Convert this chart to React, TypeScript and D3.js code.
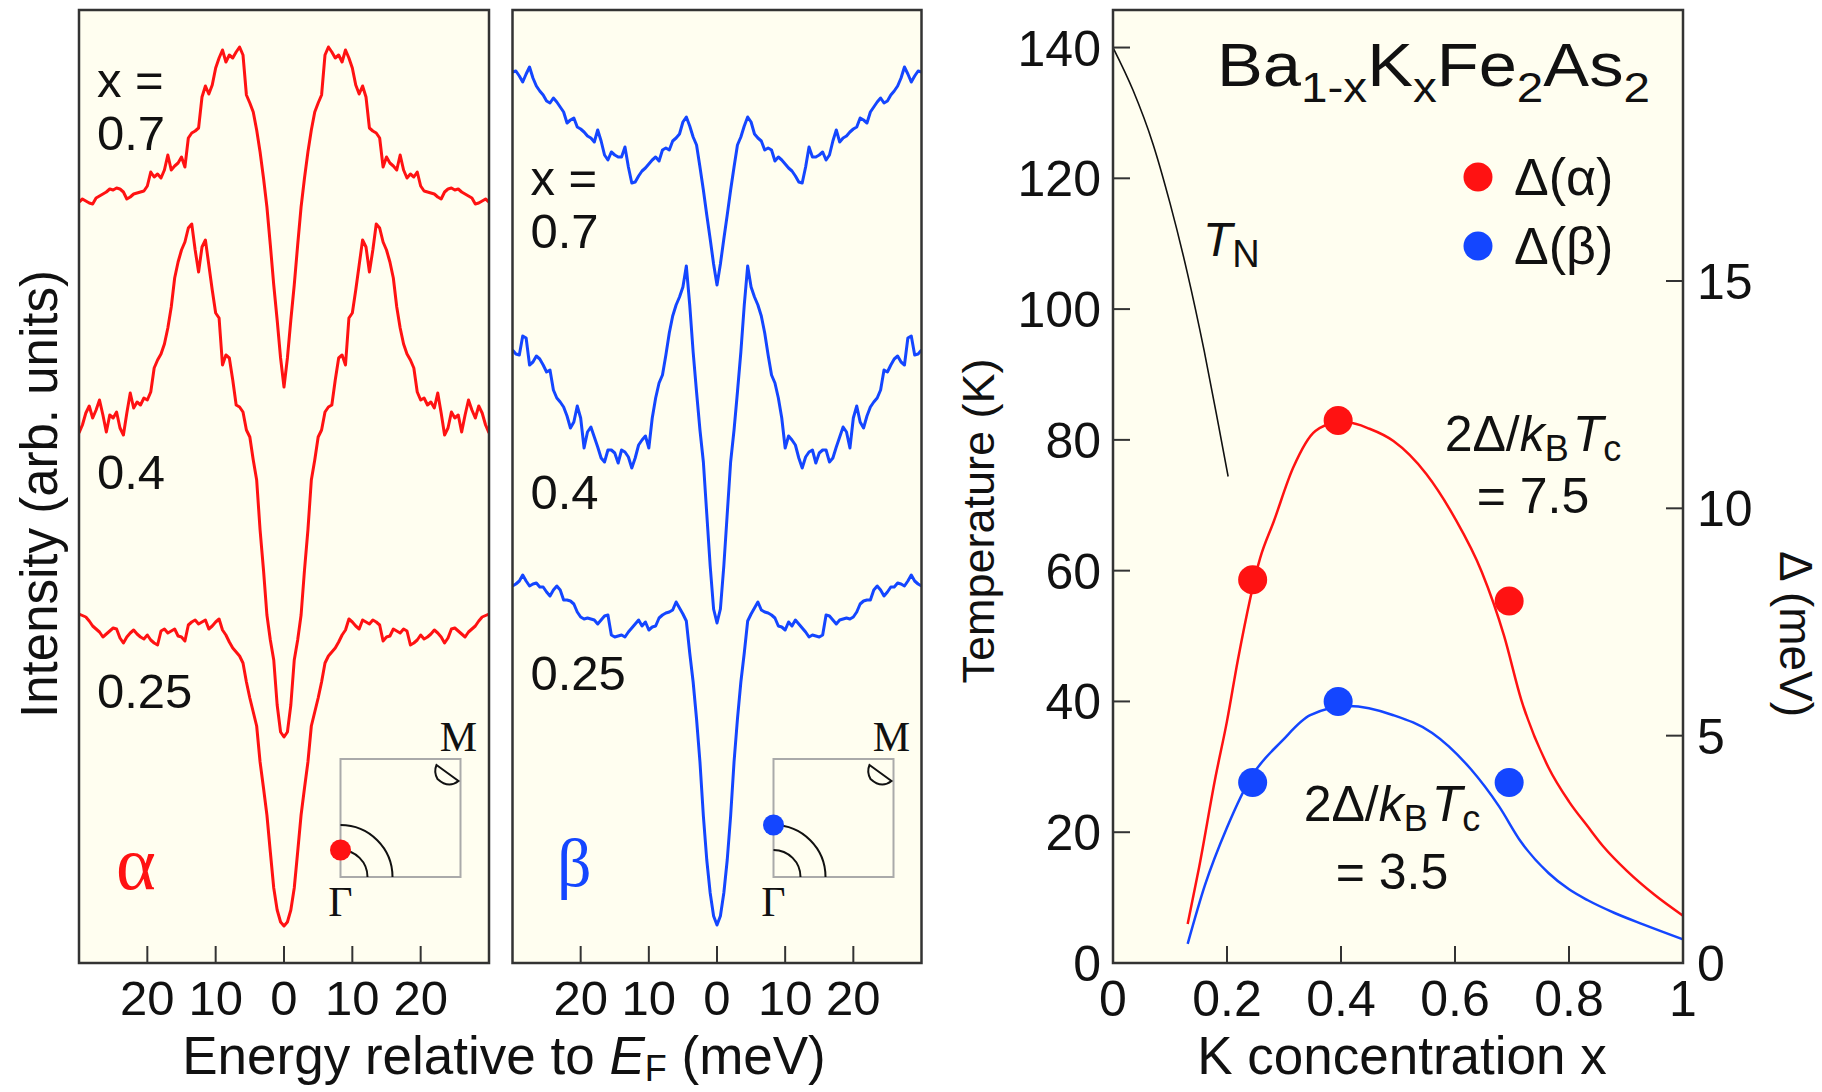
import React from "react";
import * as d3 from "d3";

// Symmetrized EDCs (alpha / beta bands) + gap phase diagram of Ba1-xKxFe2As2

const W = 1822;
const H = 1092;
const SANS = "'Liberation Sans', Arial, Helvetica, sans-serif";
const SERIF = "'Liberation Serif', 'Times New Roman', serif";
const RED = "#ff1212";
const BLUE = "#1446ff";
const PANEL_BG = "#fffef0";
const FRAME = "#333";

// energy grid of the occupied side (meV); the EDCs are symmetrized about E_F
const energyHalf = [
  -30, -29.5, -29, -28.5, -28, -27.5, -27, -26.5, -26, -25.5,
  -25, -24.5, -24, -23.5, -23, -22.5, -22, -21.5, -21, -20.5,
  -20, -19.5, -19, -18.5, -18, -17.5, -17, -16.5, -16, -15.5,
  -15, -14.5, -14, -13.5, -13, -12.5, -12, -11.5, -11, -10.5,
  -10, -9.5, -9, -8.5, -8, -7.5, -7, -6.5, -6, -5.5,
  -5, -4.5, -4, -3.5, -3, -2.5, -2, -1.5, -1, -0.5, 0,
];

// intensities (arb. units, vertical offsets included)
const alpha07 = [
  7.62, 7.65, 7.63, 7.61, 7.6, 7.66, 7.68, 7.7, 7.72, 7.75,
  7.74, 7.76, 7.75, 7.72, 7.65, 7.67, 7.7, 7.71, 7.72, 7.73,
  7.78, 7.92, 7.87, 7.9, 7.86, 7.94, 8.09, 7.94, 7.98, 8.01,
  8.07, 7.97, 8.26, 8.31, 8.33, 8.36, 8.67, 8.78, 8.7, 8.79,
  8.96, 9.06, 9.14, 9.02, 9.09, 9.06, 9.12, 9.17, 9.09, 8.69,
  8.61, 8.52, 8.34, 8.12, 7.86, 7.57, 7.19, 6.79, 6.44, 6.06, 5.77,
];
const alpha04 = [
  5.31, 5.39, 5.51, 5.58, 5.46, 5.54, 5.64, 5.49, 5.32, 5.49,
  5.46, 5.52, 5.36, 5.29, 5.51, 5.71, 5.56, 5.62, 5.59, 5.66,
  5.64, 5.72, 5.96, 6.04, 6.1, 6.2, 6.36, 6.57, 6.86, 7.02,
  7.14, 7.22, 7.36, 7.4, 7.14, 6.92, 7.17, 7.24, 6.99, 6.74,
  6.51, 6.46, 5.99, 6.09, 6.06, 5.84, 5.59, 5.57, 5.52, 5.34,
  5.27, 5.04, 4.84, 4.34, 3.94, 3.49, 3.24, 3.04, 2.59, 2.32, 2.27,
];
const alpha025 = [
  3.5, 3.485, 3.47, 3.43, 3.38, 3.35, 3.32, 3.27, 3.3, 3.33,
  3.36, 3.35, 3.26, 3.21, 3.27, 3.31, 3.34, 3.3, 3.27, 3.25,
  3.29, 3.24, 3.21, 3.19, 3.33, 3.35, 3.31, 3.33, 3.35, 3.28,
  3.27, 3.23, 3.39, 3.42, 3.44, 3.4, 3.42, 3.44, 3.35, 3.38,
  3.42, 3.45, 3.34, 3.29, 3.22, 3.16, 3.12, 3.08, 3.01, 2.82,
  2.66, 2.52, 2.38, 2.02, 1.76, 1.49, 1.12, 0.76, 0.54, 0.42, 0.38,
];
const beta07 = [
  8.92, 8.93, 8.88, 8.82, 8.9, 8.97, 8.86, 8.78, 8.73, 8.69,
  8.63, 8.61, 8.66, 8.62, 8.57, 8.52, 8.41, 8.44, 8.46, 8.37,
  8.35, 8.32, 8.28, 8.26, 8.22, 8.34, 8.23, 8.09, 8.04, 8.12,
  8.09, 8.07, 8.07, 8.17, 7.97, 7.81, 7.82, 7.88, 7.93, 7.96,
  8.0, 8.04, 8.07, 8.03, 8.14, 8.16, 8.14, 8.23, 8.26, 8.3,
  8.42, 8.47, 8.38, 8.27, 8.19, 7.97, 7.74, 7.49, 7.25, 7.0, 6.79,
];
const beta04 = [
  6.14, 6.1, 6.09, 6.28, 6.26, 5.99, 6.02, 6.08, 6.05, 5.99,
  5.92, 5.94, 5.74, 5.66, 5.62, 5.57, 5.48, 5.36, 5.42, 5.58,
  5.46, 5.16, 5.32, 5.37, 5.27, 5.17, 5.06, 5.02, 5.14, 5.14,
  5.11, 5.01, 5.14, 5.12, 5.07, 4.96, 5.06, 5.19, 5.24, 5.28,
  5.16, 5.46, 5.66, 5.81, 5.89, 6.09, 6.31, 6.48, 6.59, 6.67,
  6.77, 6.98, 6.59, 6.12, 5.72, 5.34, 5.02, 4.5, 3.98, 3.55, 3.41,
];
const beta025 = [
  3.78, 3.8, 3.83, 3.89, 3.83, 3.78, 3.8, 3.81, 3.77, 3.77,
  3.72, 3.68, 3.74, 3.78, 3.74, 3.64, 3.64, 3.63, 3.6, 3.52,
  3.47, 3.45, 3.46, 3.45, 3.44, 3.4, 3.44, 3.48, 3.49, 3.29,
  3.27, 3.28, 3.29, 3.27, 3.32, 3.36, 3.4, 3.44, 3.38, 3.42,
  3.34, 3.37, 3.38, 3.46, 3.49, 3.51, 3.52, 3.54, 3.62, 3.56,
  3.5, 3.43, 3.11, 2.82, 2.45, 2.02, 1.48, 1.04, 0.71, 0.48, 0.39,
];

const energyTicks = [-20, -10, 0, 10, 20];
const energyTickLabels = ["20", "10", "0", "10", "20"];

// phase diagram
const dopingTicks = [0, 0.2, 0.4, 0.6, 0.8, 1];
const dopingTickLabels = ["0", "0.2", "0.4", "0.6", "0.8", "1"];
const tempTicks = [0, 20, 40, 60, 80, 100, 120, 140];
const gapTicks = [0, 5, 10, 15];

const sampleX = [0.245, 0.395, 0.695];
const gapAlpha = [8.43, 11.93, 7.96];
const gapBeta = [3.97, 5.75, 3.97];

// 2Δ/kBTc = 7.5 curve (meV)
const ratio75X = [0.131, 0.151, 0.18, 0.2, 0.219, 0.258, 0.282, 0.316, 0.355, 0.39, 0.414, 0.45, 0.492, 0.55, 0.599, 0.647, 0.686, 0.716, 0.764, 0.8, 0.833, 0.861, 0.902, 0.95, 1.0];
const ratio75Gap = [0.86, 2.1, 4.1, 5.32, 6.66, 8.9, 9.71, 10.89, 11.7, 11.87, 11.88, 11.75, 11.48, 10.75, 9.8, 8.6, 7.2, 5.8, 4.3, 3.55, 3.0, 2.55, 2.02, 1.5, 1.04];
// 2Δ/kBTc = 3.5 curve (meV)
const ratio35X = [0.131, 0.161, 0.2, 0.243, 0.297, 0.346, 0.414, 0.492, 0.56, 0.628, 0.677, 0.716, 0.764, 0.8, 0.833, 0.88, 0.93, 1.0];
const ratio35Gap = [0.42, 1.7, 2.98, 4.1, 4.89, 5.45, 5.65, 5.45, 5.06, 4.26, 3.45, 2.66, 1.98, 1.62, 1.38, 1.1, 0.85, 0.52];
// Néel temperature (K)
const tnX = [0, 0.035, 0.07, 0.1, 0.13, 0.16, 0.185, 0.202];
const tnT = [140, 133.5, 125.3, 116.2, 105.7, 93.6, 82.3, 74.4];

function symmetrize(vals: number[]): [number, number][] {
  const occ = energyHalf.map((e, i) => [e, vals[i]] as [number, number]);
  const unocc = energyHalf
    .slice(0, -1)
    .map((e, i) => [-e, vals[i]] as [number, number])
    .reverse();
  return occ.concat(unocc);
}

const frameTop = 10;
const frameBottom = 963;

const edcPanels = [
  {
    id: "alpha",
    left: 79,
    right: 489,
    color: RED,
    curves: [alpha07, alpha04, alpha025],
    band: "α",
    bandX: 116,
    bandY: 889,
    bandSize: 76,
    labels: [
      { text: "x =", y: 97 },
      { text: "0.7", y: 150 },
      { text: "0.4", y: 489 },
      { text: "0.25", y: 708 },
    ],
    dotOuter: false,
  },
  {
    id: "beta",
    left: 512.5,
    right: 921.5,
    color: BLUE,
    curves: [beta07, beta04, beta025],
    band: "β",
    bandX: 557,
    bandY: 886,
    bandSize: 68,
    labels: [
      { text: "x =", y: 195 },
      { text: "0.7", y: 248 },
      { text: "0.4", y: 509 },
      { text: "0.25", y: 690 },
    ],
    dotOuter: true,
  },
];

function EdcPanel({ p }: { p: (typeof edcPanels)[number] }) {
  const xE = d3.scaleLinear().domain([-30, 30]).range([p.left, p.right]);
  const yI = d3.scaleLinear().domain([0, 9.54]).range([964, 10]);
  const line = d3
    .line<[number, number]>()
    .x((d) => xE(d[0]))
    .y((d) => yI(d[1]));
  const clipId = `clip-${p.id}`;

  // Brillouin-zone inset
  const bx = xE(0) + 56.5;
  const by = 759;
  const bw = 120;
  const bh = 118;
  const gy = by + bh;
  const rIn = 27;
  const rOut = 52;
  const arc = (r: number) => `M${bx + r},${gy} A${r},${r} 0 0 0 ${bx},${gy - r}`;
  const pocket = `M${bx + 96},${by + 6} L${bx + 118},${by + 22} Q${bx + 108},${by + 30} ${bx + 97},${by + 20} Q${bx + 93},${by + 13} ${bx + 96},${by + 6} Z`;

  return (
    <g>
      <defs>
        <clipPath id={clipId}>
          <rect x={p.left} y={frameTop} width={p.right - p.left} height={frameBottom - frameTop} />
        </clipPath>
      </defs>
      <rect x={p.left} y={frameTop} width={p.right - p.left} height={frameBottom - frameTop} fill={PANEL_BG} />
      <g clipPath={`url(#${clipId})`}>
        {p.curves.map((c, i) => (
          <path
            key={i}
            d={line(symmetrize(c)) || ""}
            fill="none"
            stroke={p.color}
            strokeWidth={3}
            strokeLinejoin="round"
          />
        ))}
      </g>
      {p.labels.map((l, i) => (
        <text key={i} x={p.left + 18} y={l.y} fontFamily={SANS} fontSize={49} fill="#111">
          {l.text}
        </text>
      ))}
      <text x={p.bandX} y={p.bandY} fontFamily={SERIF} fontSize={p.bandSize} fill={p.color}>
        {p.band}
      </text>
      <rect x={bx} y={by} width={bw} height={bh} fill="none" stroke="#aaa" strokeWidth={2} />
      <path d={arc(rIn)} fill="none" stroke="#111" strokeWidth={2} />
      <path d={arc(rOut)} fill="none" stroke="#111" strokeWidth={2} />
      <path d={pocket} fill="none" stroke="#111" strokeWidth={2} />
      <circle cx={bx} cy={gy - (p.dotOuter ? rOut : rIn)} r={10.5} fill={p.color} />
      <text x={bx + bw - 2} y={751} textAnchor="middle" fontFamily={SERIF} fontSize={42} fill="#111">
        M
      </text>
      <text x={bx} y={916} textAnchor="middle" fontFamily={SERIF} fontSize={42} fill="#111">
        Γ
      </text>
      {energyTicks.map((t, i) => (
        <g key={t}>
          <line x1={xE(t)} x2={xE(t)} y1={frameBottom} y2={frameBottom - 17} stroke={FRAME} strokeWidth={2} />
          <text x={xE(t)} y={1015} textAnchor="middle" fontFamily={SANS} fontSize={49} fill="#111">
            {energyTickLabels[i]}
          </text>
        </g>
      ))}
      <rect
        x={p.left}
        y={frameTop}
        width={p.right - p.left}
        height={frameBottom - frameTop}
        fill="none"
        stroke={FRAME}
        strokeWidth={2.5}
      />
    </g>
  );
}

function PhasePanel() {
  const left = 1113;
  const right = 1683;
  const x = d3.scaleLinear().domain([0, 1]).range([left, right]);
  const yT = d3.scaleLinear().domain([0, 145.74]).range([frameBottom, frameTop]);
  const yD = d3.scaleLinear().domain([0, 20.96]).range([frameBottom, frameTop]);

  const gapLine = d3
    .line<[number, number]>()
    .x((d) => x(d[0]))
    .y((d) => yD(d[1]))
    .curve(d3.curveMonotoneX);
  const tnLine = d3
    .line<[number, number]>()
    .x((d) => x(d[0]))
    .y((d) => yT(d[1]))
    .curve(d3.curveMonotoneX);

  const c75 = ratio75X.map((v, i) => [v, ratio75Gap[i]] as [number, number]);
  const c35 = ratio35X.map((v, i) => [v, ratio35Gap[i]] as [number, number]);
  const tn = tnX.map((v, i) => [v, tnT[i]] as [number, number]);

  return (
    <g>
      <rect x={left} y={frameTop} width={right - left} height={frameBottom - frameTop} fill={PANEL_BG} />
      <path d={tnLine(tn) || ""} fill="none" stroke="#111" strokeWidth={1.6} />
      <path d={gapLine(c75) || ""} fill="none" stroke={RED} strokeWidth={2.5} />
      <path d={gapLine(c35) || ""} fill="none" stroke={BLUE} strokeWidth={2.5} />
      {sampleX.map((v, i) => (
        <g key={v}>
          <circle cx={x(v)} cy={yD(gapAlpha[i])} r={14.5} fill={RED} />
          <circle cx={x(v)} cy={yD(gapBeta[i])} r={14.5} fill={BLUE} />
        </g>
      ))}

      {/* ticks */}
      {dopingTicks.map((t, i) => (
        <g key={t}>
          <line x1={x(t)} x2={x(t)} y1={frameBottom} y2={frameBottom - 17} stroke={FRAME} strokeWidth={2} />
          <text x={x(t)} y={1016} textAnchor="middle" fontFamily={SANS} fontSize={50} fill="#111">
            {dopingTickLabels[i]}
          </text>
        </g>
      ))}
      {tempTicks.map((t) => (
        <g key={t}>
          <line x1={left} x2={left + 17} y1={yT(t)} y2={yT(t)} stroke={FRAME} strokeWidth={2} />
          <text x={left - 12} y={yT(t) + 18} textAnchor="end" fontFamily={SANS} fontSize={50} fill="#111">
            {t}
          </text>
        </g>
      ))}
      {gapTicks.map((t) => (
        <g key={t}>
          <line x1={right} x2={right - 17} y1={yD(t)} y2={yD(t)} stroke={FRAME} strokeWidth={2} />
          <text x={right + 14} y={yD(t) + 18} textAnchor="start" fontFamily={SANS} fontSize={50} fill="#111">
            {t}
          </text>
        </g>
      ))}
      <rect
        x={left}
        y={frameTop}
        width={right - left}
        height={frameBottom - frameTop}
        fill="none"
        stroke={FRAME}
        strokeWidth={2.5}
      />

      {/* title */}
      <text x={1217} y={86} fontFamily={SANS} fontSize={62} fill="#111" textLength={433} lengthAdjust="spacingAndGlyphs">
        Ba
        <tspan fontSize={43} dy={16}>1-x</tspan>
        <tspan dy={-16}>K</tspan>
        <tspan fontSize={43} dy={16}>x</tspan>
        <tspan dy={-16}>Fe</tspan>
        <tspan fontSize={43} dy={16}>2</tspan>
        <tspan dy={-16}>As</tspan>
        <tspan fontSize={43} dy={16}>2</tspan>
      </text>

      {/* T_N */}
      <text x={1203} y={256} fontFamily={SANS} fontSize={48} fill="#111">
        <tspan fontStyle="italic">T</tspan>
        <tspan fontSize={38} dy={11}>N</tspan>
      </text>

      {/* legend */}
      <circle cx={1478} cy={177} r={14.5} fill={RED} />
      <text x={1514} y={195} fontFamily={SANS} fontSize={52} fill="#111">Δ(α)</text>
      <circle cx={1478} cy={246} r={14.5} fill={BLUE} />
      <text x={1514} y={264} fontFamily={SANS} fontSize={52} fill="#111">Δ(β)</text>

      {/* ratio annotations */}
      {[
        { cx: 1533, y1: 451, y2: 513, value: "= 7.5" },
        { cx: 1392, y1: 821, y2: 889, value: "= 3.5" },
      ].map((a) => (
        <g key={a.value}>
          <text x={a.cx} y={a.y1} textAnchor="middle" fontFamily={SANS} fontSize={50} fill="#111">
            2Δ/<tspan fontStyle="italic">k</tspan>
            <tspan fontSize={36} dy={10}>B</tspan>
            <tspan fontStyle="italic" dy={-10} dx={4}>T</tspan>
            <tspan fontSize={36} dy={10}>c</tspan>
          </text>
          <text x={a.cx} y={a.y2} textAnchor="middle" fontFamily={SANS} fontSize={50} fill="#111">
            {a.value}
          </text>
        </g>
      ))}
    </g>
  );
}

export default function App() {
  return (
    <svg
      width={W}
      height={H}
      viewBox={`0 0 ${W} ${H}`}
      style={{ position: "absolute", left: 0, top: 0, background: "#fff" }}
    >
      {edcPanels.map((p) => (
        <EdcPanel key={p.id} p={p} />
      ))}
      <PhasePanel />

      {/* axis titles */}
      <text
        transform="translate(57,494) rotate(-90)"
        textAnchor="middle"
        fontFamily={SANS}
        fontSize={51}
        fill="#111"
      >
        Intensity (arb. units)
      </text>
      <text x={504} y={1074} textAnchor="middle" fontFamily={SANS} fontSize={53} fill="#111">
        Energy relative to <tspan fontStyle="italic">E</tspan>
        <tspan fontSize={36} dy={7}>F</tspan>
        <tspan dy={-7}> (meV)</tspan>
      </text>
      <text x={1402} y={1074} textAnchor="middle" fontFamily={SANS} fontSize={53} fill="#111">
        K concentration x
      </text>
      <text
        transform="translate(994,521) rotate(-90)"
        textAnchor="middle"
        fontFamily={SANS}
        fontSize={45}
        fill="#111"
      >
        Temperature (K)
      </text>
      <text
        transform="translate(1780,634) rotate(90)"
        textAnchor="middle"
        fontFamily={SANS}
        fontSize={46}
        fill="#111"
      >
        Δ (meV)
      </text>
    </svg>
  );
}
